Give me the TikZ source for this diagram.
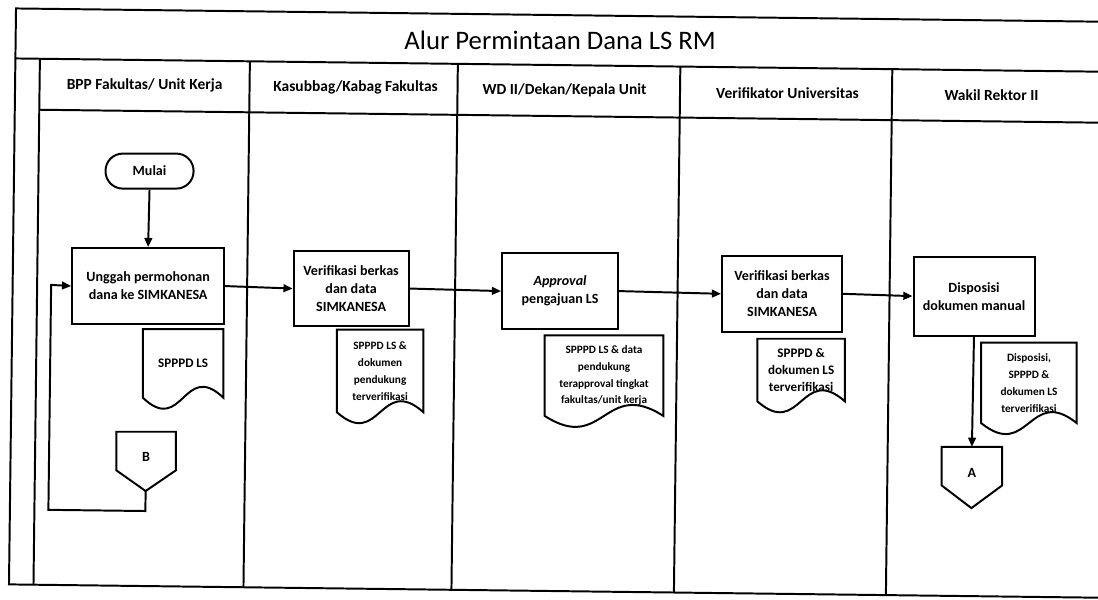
\documentclass[tikz,border=0pt]{standalone}
\usepackage{fontspec}
\setmainfont{Carlito}
\usetikzlibrary{arrows.meta,calc}

% document symbol: box with a wavy lower edge
\newcommand\docoutline[1]{%
  \draw[shapeline] (#1.south west) -- (#1.north west) -- (#1.north east) -- (#1.south east)
    .. controls ($(#1.south west)!0.5!(#1.south east)+(0,-38)$)
       and ($(#1.south west)!0.5!(#1.south east)+(0,38)$) .. (#1.south west) -- cycle;}
% off-page connector: square top with a pointed bottom
\newcommand\offpage[2]{%
  \draw[shapeline] (#1.north west) -- (#1.north east) -- (#1.south east)
    -- (#2) -- (#1.south west) -- cycle;}

\begin{document}
\begin{tikzpicture}[x=0.025cm,y=-0.025cm,
  shapeline/.style={line width=1.4pt,line join=miter},
  lane/.style={line width=1.4pt},
  flow/.style={line width=1.4pt,-{Triangle[length=6.5pt,width=5.5pt]}},
  lanehead/.style={font=\bfseries\fontsize{11}{13}\selectfont},
  procbox/.style={draw,line width=1.4pt,align=center,inner sep=1pt,
    font=\bfseries\fontsize{10}{12.8}\selectfont},
  terminal/.style={procbox,rounded corners=0.43cm},
  docbox/.style={align=center,inner sep=0pt,font=\bfseries\fontsize{8}{12}\selectfont},
  bigdoc/.style={docbox,font=\bfseries\fontsize{9.3}{12.2}\selectfont},
  pagebox/.style={inner sep=0pt,font=\bfseries\fontsize{10}{12}\selectfont},
]
\useasboundingbox (-3.7,6.7) rectangle ++(1098,599);
\clip (-3.7,6.7) rectangle ++(1098,599);

\begin{scope}[rotate=-0.7]
% swimlane frame
\draw[lane] (1125,15) -- (12.5,15) -- (12.5,591) -- (1125,591);
\draw[lane] (12.5,65) -- (1125,65);
\draw[lane] (37,116) -- (1125,116);
\foreach \lx in {37,247,455,677.5,889.5} \draw[lane] (\lx,65) -- (\lx,591);

\node[font=\fontsize{19}{22}\selectfont] (ttl) at (557,40) {Alur Permintaan Dana LS RM};

% lane headings
\node[lanehead] (h1) at (142,90) {BPP Fakultas/ Unit Kerja};
\node[lanehead] (h2) at (353,90) {Kasubbag/Kabag Fakultas};
\node[lanehead] (h3) at (562,90) {WD II/Dekan/Kepala Unit};
\node[lanehead] (h4) at (785,90) {Verifikator Universitas};
\node[lanehead] (h5) at (989,90) {Wakil Rektor II};

% start
\node[terminal,minimum width=2.2cm,minimum height=0.875cm] (mulai) at (148,176) {Mulai};

% process steps
\node[procbox,minimum width=3.8cm,minimum height=1.9cm] (p1) at (148,291)
  {Unggah permohonan\\dana ke SIMKANESA};
\node[procbox,minimum width=2.875cm,minimum height=1.875cm] (p2) at (351,291)
  {Verifikasi berkas\\dan data\\SIMKANESA};
\node[procbox,minimum width=2.9cm,minimum height=1.9cm] (p3) at (560,291)
  {\textit{Approval}\\pengajuan LS};
\node[procbox,minimum width=3.0cm,minimum height=1.9cm] (p4) at (782,291)
  {Verifikasi berkas\\dan data\\SIMKANESA};
\node[procbox,minimum width=3.025cm,minimum height=1.975cm] (p5) at (974,291)
  {Disposisi\\dokumen manual};

% documents
\node[bigdoc,minimum width=2.0cm,minimum height=1.7cm] (d1) at (184,368) {SPPPD LS};
\node[docbox,minimum width=2.15cm,minimum height=2.05cm] (d2) at (381,373)
  {SPPPD LS \&\\dokumen\\pendukung\\terverifikasi};
\node[docbox,minimum width=2.95cm,minimum height=2.0cm] (d3) at (605,375)
  {SPPPD LS \& data\\pendukung\\terapproval tingkat\\fakultas/unit kerja};
\node[bigdoc,minimum width=2.175cm,minimum height=1.55cm] (d4) at (802,367)
  {SPPPD \&\\dokumen LS\\terverifikasi};
\node[docbox,minimum width=2.375cm,minimum height=2.0cm] (d5) at (1030,377)
  {Disposisi,\\SPPPD \&\\dokumen LS\\terverifikasi};
\foreach \d in {d1,d2,d3,d4,d5} \docoutline{\d};

% off-page connectors
\node[pagebox,minimum width=1.475cm,minimum height=0.95cm] (cB) at (148,456)
  {\raisebox{-0.26cm}[0pt][0pt]{B}};
\coordinate (Btip) at (148,496);
\offpage{cB}{Btip}
\node[pagebox,minimum width=1.5cm,minimum height=0.95cm] (cA) at (974,461)
  {\raisebox{-0.29cm}[0pt][0pt]{A}};
\coordinate (Atip) at (974,503);
\offpage{cA}{Atip}

% connectors
\draw[flow] (mulai.south) -- (p1.north);
\draw[flow] (p1.east) -- (p2.west);
\draw[flow] (p2.east) -- (p3.west);
\draw[flow] (p3.east) -- (p4.west);
\draw[flow] (p4.east) -- (p5.west);
\draw[flow] (p5.south) -- (cA.north);
\coordinate (lp1) at (148,516);
\coordinate (lp2) at (51,516);
\coordinate (lp3) at (51,291);
\draw[flow] (Btip) -- (lp1) -- (lp2) -- (lp3) -- (p1.west);
\end{scope}
\end{tikzpicture}
\end{document}
